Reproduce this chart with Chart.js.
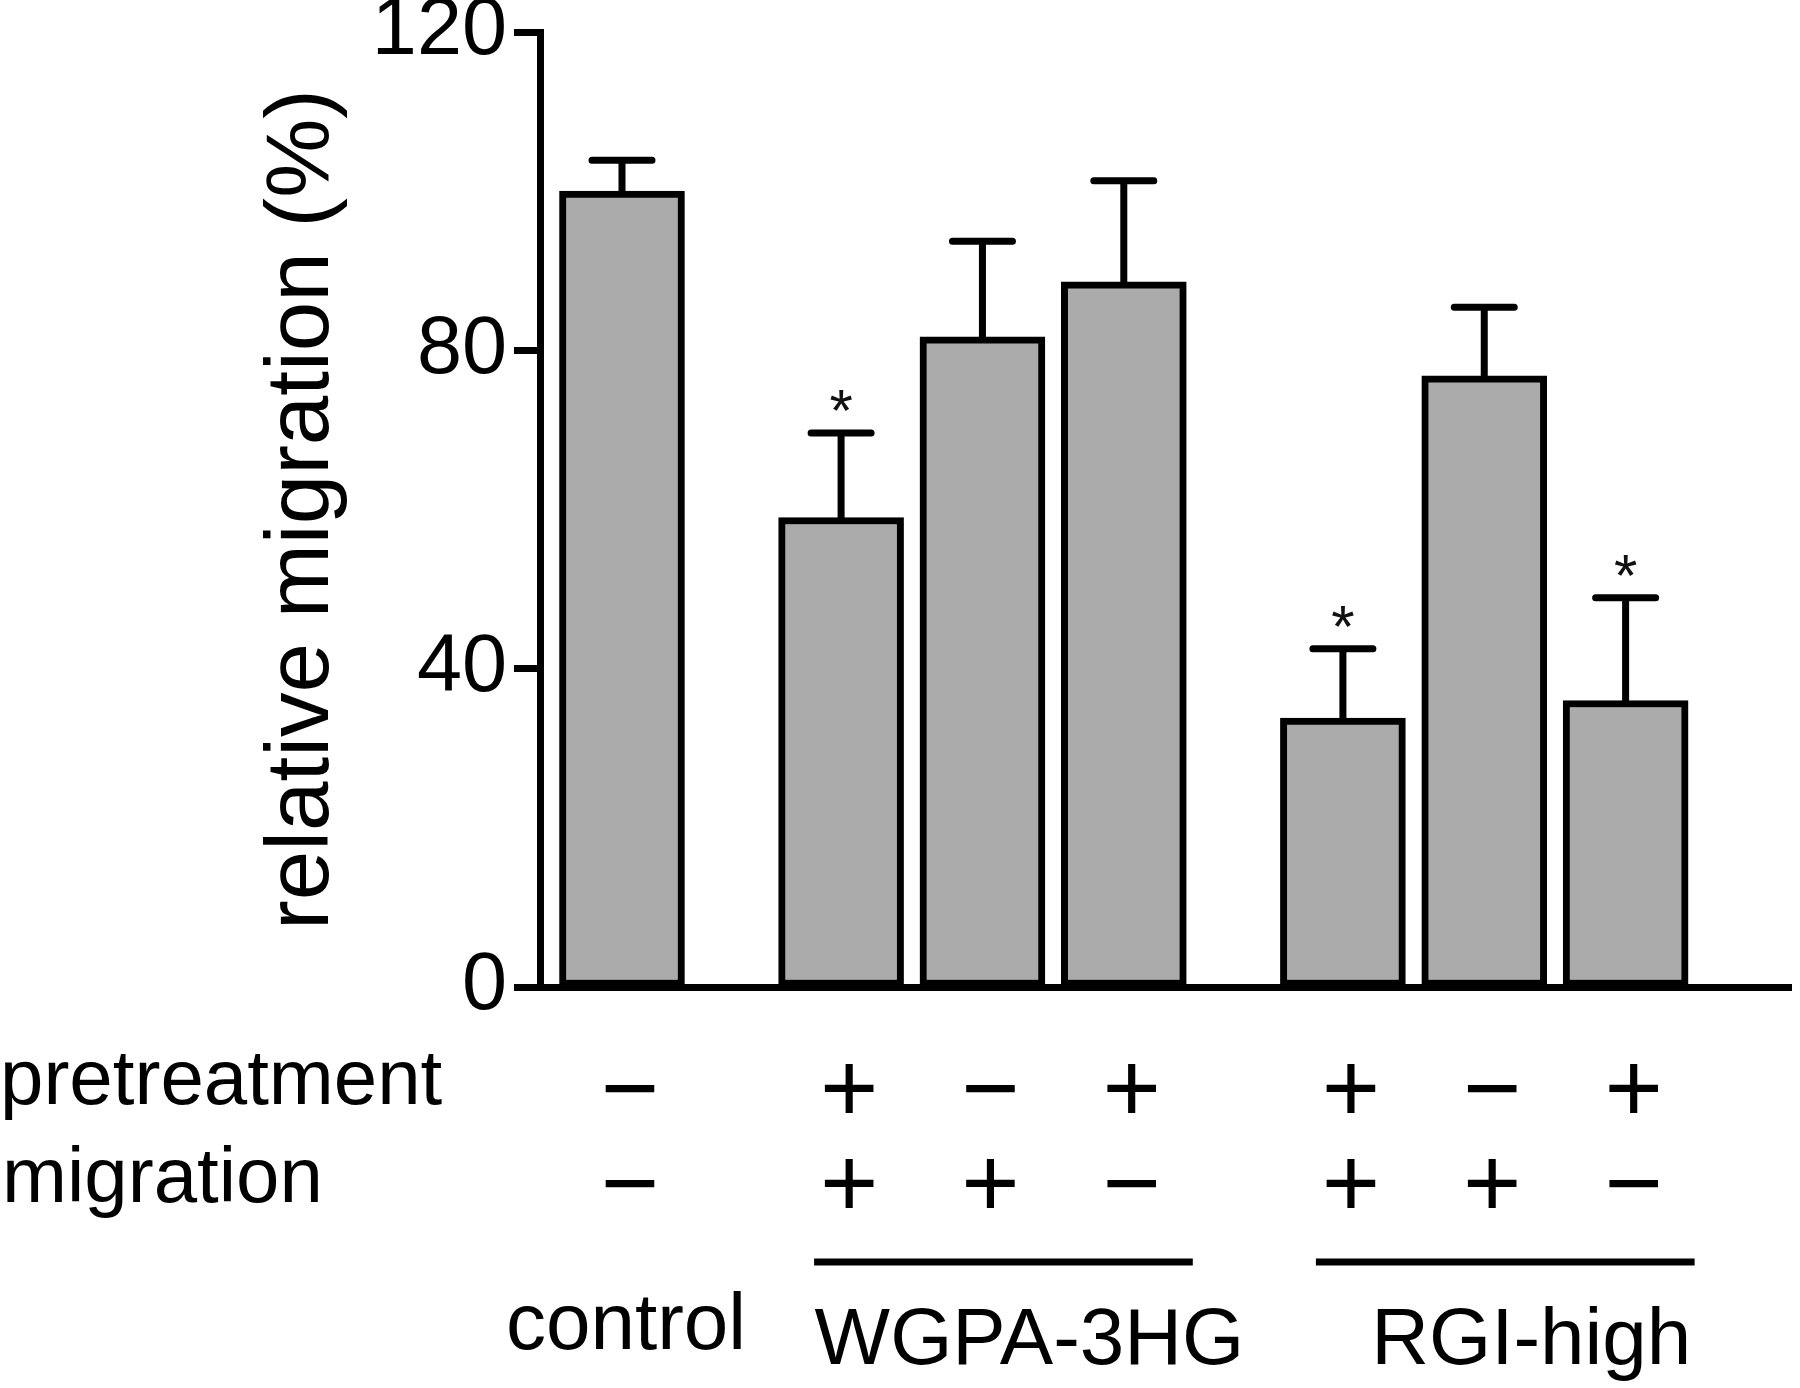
<!DOCTYPE html>
<html>
<head>
<meta charset="utf-8">
<script src="https://cdn.jsdelivr.net/npm/chart.js@4.4.1/dist/chart.umd.min.js"></script>
<style>
  html, body { margin: 0; padding: 0; background: #fff; }
  #wrap { width: 1800px; height: 1388px; position: relative; }
</style>
</head>
<body>
<div id="wrap"><canvas id="chartMigracion"></canvas></div>
<script>
// datos
const grupos = ['control', 'WGPA-3HG', 'WGPA-3HG', 'WGPA-3HG', 'RGI-high', 'RGI-high', 'RGI-high'];
const pretratamiento = ['−', '+', '−', '+', '+', '−', '+'];
const migracion = ['−', '+', '+', '−', '+', '+', '−'];
const posicionBarra = [1, 2.55, 3.55, 4.55, 6.1, 7.1, 8.1];
const valores = [100, 59, 81.7, 88.6, 33.8, 76.8, 36];
const errorSuperior = [103.9, 69.6, 93.7, 101.3, 42.5, 85.4, 48.9];
const significativo = [false, true, false, false, true, false, true];
const ticksY = [0, 40, 80, 120];

const FUENTE = '"Liberation Sans", Arial, sans-serif';

const pluginErrores = {
    id: 'errores',
    afterDatasetsDraw(chart) {
        const ctx = chart.ctx;
        const y = chart.scales.y;
        const barras = chart.getDatasetMeta(0).data;
        ctx.save();
        ctx.strokeStyle = '#000';
        ctx.lineWidth = 7;
        ctx.lineCap = 'round';
        barras.forEach((b, i) => {
            const yTop = y.getPixelForValue(errorSuperior[i]);
            ctx.beginPath();
            ctx.moveTo(b.x, b.y);
            ctx.lineTo(b.x, yTop);
            ctx.moveTo(b.x - 30, yTop);
            ctx.lineTo(b.x + 30, yTop);
            ctx.stroke();
            if (significativo[i]) {
                ctx.fillStyle = '#111';
                ctx.font = '60px ' + FUENTE;
                ctx.textAlign = 'center';
                ctx.textBaseline = 'alphabetic';
                ctx.fillText('*', b.x, yTop - 2);
            }
        });
        ctx.restore();
    }
};

const pluginTabla = {
    id: 'tabla',
    afterDraw(chart) {
        const ctx = chart.ctx;
        const barras = chart.getDatasetMeta(0).data;
        ctx.save();
        ctx.fillStyle = '#000';
        ctx.font = '78px ' + FUENTE;
        ctx.textBaseline = 'alphabetic';
        ctx.textAlign = 'left';
        ctx.fillText('pretreatment', 0, 1104);
        ctx.fillText('migration', 2, 1202);

        ctx.font = '100px ' + FUENTE;
        ctx.textAlign = 'center';
        ctx.textBaseline = 'middle';
        barras.forEach((b, i) => {
            ctx.fillText(pretratamiento[i], b.x + 8, 1094);
            ctx.fillText(migracion[i], b.x + 8, 1189);
        });

        // lineas y nombres de grupo
        const nombres = [...new Set(grupos)];
        ctx.font = '80px ' + FUENTE;
        ctx.textBaseline = 'alphabetic';
        ctx.lineWidth = 7;
        ctx.strokeStyle = '#000';
        nombres.forEach(g => {
            const idx = grupos.map((v, i) => v === g ? i : -1).filter(i => i >= 0);
            const x0 = barras[idx[0]].x;
            const x1 = barras[idx[idx.length - 1]].x;
            if (idx.length > 1) {
                const a = x0 - 27, c = x1 + 69;
                ctx.beginPath();
                ctx.moveTo(a, 1262);
                ctx.lineTo(c, 1262);
                ctx.stroke();
                ctx.fillText(g, (a + c) / 2 + 26, 1364);
            } else {
                ctx.fillText(g, x0 + 4, 1349);
            }
        });
        ctx.restore();
    }
};

new Chart(document.getElementById('chartMigracion'), {
    type: 'bar',
    data: {
        datasets: [{
            data: valores.map((v, i) => ({ x: posicionBarra[i], y: v })),
            backgroundColor: '#ababab',
            borderColor: '#000',
            borderWidth: 7,
            borderSkipped: false,
            barThickness: 125
        }]
    },
    options: {
        responsive: true,
        maintainAspectRatio: false,
        animation: false,
        devicePixelRatio: 1,
        layout: { padding: { left: 0, right: 9, top: 32, bottom: 0 } },
        plugins: { legend: { display: false }, tooltip: { enabled: false } },
        scales: {
            x: {
                type: 'linear',
                offset: false,
                min: 0.42,
                max: 9.27,
                ticks: { display: false },
                grid: { display: false, drawTicks: false, offset: false },
                border: { display: true, color: '#000', width: 7 },
                afterFit(s) { s.height = 401; s.paddingLeft = 0; s.paddingRight = 0; }
            },
            y: {
                min: 0,
                max: 120,
                afterBuildTicks(s) { s.ticks = ticksY.map(v => ({ value: v })); },
                ticks: {
                    color: '#000',
                    padding: 7,
                    font: { family: FUENTE, size: 81 }
                },
                grid: {
                    drawOnChartArea: false,
                    drawTicks: true,
                    tickLength: 26,
                    tickWidth: 7,
                    tickColor: '#000'
                },
                border: { display: true, color: '#000', width: 7 },
                title: {
                    display: true,
                    text: 'relative migration (%)',
                    color: '#000',
                    font: { family: FUENTE, size: 89 },
                    padding: { top: 250, bottom: 0 }
                },
                afterFit(s) { s.width = 540; s.paddingTop = 0; s.paddingBottom = 0; }
            }
        }
    },
    plugins: [pluginErrores, pluginTabla]
});
</script>
</body>
</html>
